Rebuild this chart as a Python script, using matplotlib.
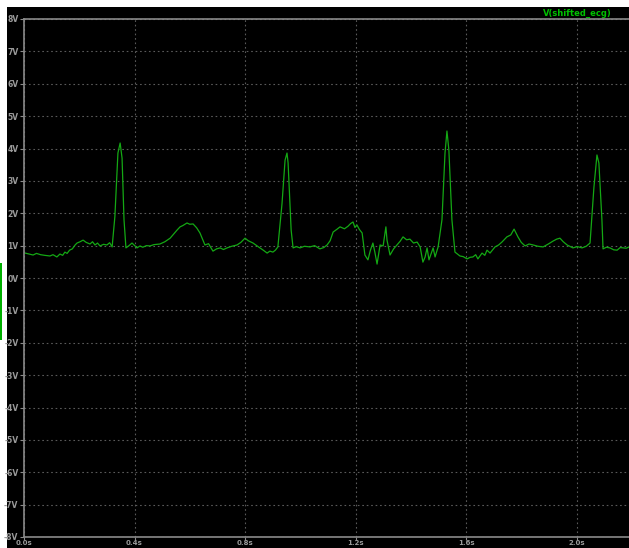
import matplotlib.pyplot as plt
from matplotlib.patches import Rectangle
import numpy as np

# trace values (time in s, voltage in V)
t = [0.004, 0.018, 0.033, 0.045, 0.060, 0.075, 0.094, 0.105, 0.119, 0.130, 0.140, 0.148, 0.156,
     0.165, 0.175, 0.185, 0.192, 0.203, 0.214, 0.225, 0.239, 0.248, 0.257, 0.266, 0.275,
     0.288, 0.300, 0.310, 0.319, 0.329, 0.340, 0.348, 0.355, 0.362, 0.369, 0.380, 0.391,
     0.409, 0.420, 0.430, 0.443, 0.456, 0.470, 0.492, 0.510, 0.529, 0.542, 0.554, 0.565,
     0.575, 0.590, 0.600, 0.612, 0.625, 0.637, 0.655, 0.668, 0.684, 0.697, 0.710, 0.722,
     0.735, 0.752, 0.771, 0.785, 0.800, 0.812, 0.829, 0.842, 0.854, 0.866, 0.880, 0.890,
     0.901, 0.910, 0.919, 0.934, 0.945, 0.952, 0.956, 0.967, 0.974, 0.986, 0.999, 1.015,
     1.035, 1.052, 1.071, 1.085, 1.097, 1.108, 1.119, 1.132, 1.144, 1.160, 1.173, 1.182,
     1.191, 1.198, 1.205, 1.214, 1.224, 1.234, 1.245, 1.254, 1.263, 1.270, 1.278, 1.289,
     1.300, 1.310, 1.314, 1.325, 1.338, 1.350, 1.362, 1.372, 1.385, 1.397, 1.410, 1.423,
     1.434, 1.444, 1.452, 1.459, 1.466, 1.481, 1.488, 1.499, 1.513, 1.524, 1.531, 1.538,
     1.549, 1.560, 1.578, 1.590, 1.604, 1.615, 1.625, 1.635, 1.643, 1.658, 1.668, 1.676,
     1.687, 1.705, 1.718, 1.730, 1.748, 1.762, 1.774, 1.788, 1.800, 1.814, 1.828, 1.843,
     1.860, 1.879, 1.898, 1.915, 1.928, 1.940, 1.952, 1.966, 1.987, 2.003, 2.020, 2.035,
     2.049, 2.063, 2.074, 2.081, 2.092, 2.096, 2.108, 2.121, 2.135, 2.147, 2.158, 2.168,
     2.180, 2.190]
v = [0.77, 0.74, 0.71, 0.76, 0.72, 0.70, 0.68, 0.72, 0.65, 0.74, 0.70, 0.80, 0.76,
     0.86, 0.90, 1.02, 1.08, 1.12, 1.17, 1.10, 1.05, 1.12, 1.02, 1.08, 0.99,
     1.04, 1.02, 1.09, 0.96, 1.90, 3.86, 4.17, 3.70, 1.80, 0.93, 1.00, 1.08,
     0.93, 0.99, 0.95, 1.00, 0.99, 1.03, 1.05, 1.12, 1.23, 1.36, 1.48, 1.58,
     1.62, 1.70, 1.66, 1.67, 1.55, 1.39, 1.02, 1.06, 0.83, 0.90, 0.93, 0.88,
     0.93, 0.98, 1.02, 1.10, 1.23, 1.15, 1.08, 1.00, 0.93, 0.86, 0.77, 0.83,
     0.80, 0.86, 0.96, 2.30, 3.64, 3.86, 3.55, 1.48, 0.93, 0.97, 0.93, 0.98,
     0.96, 1.00, 0.90, 0.94, 1.02, 1.15, 1.42, 1.50, 1.58, 1.52, 1.60, 1.68,
     1.73, 1.56, 1.64, 1.50, 1.39, 0.71, 0.56, 0.86, 1.08, 0.80, 0.43, 1.02,
     0.99, 1.58, 1.17, 0.71, 0.90, 1.02, 1.14, 1.27, 1.18, 1.20, 1.08, 1.11,
     0.96, 0.49, 0.65, 0.93, 0.56, 0.93, 0.65, 0.96, 1.80, 3.86, 4.54, 3.95,
     1.80, 0.80, 0.68, 0.66, 0.59, 0.64, 0.65, 0.72, 0.59, 0.77, 0.70, 0.86,
     0.77, 0.96, 1.02, 1.11, 1.27, 1.33, 1.51, 1.27, 1.10, 0.99, 1.05, 1.02,
     0.98, 0.96, 1.05, 1.14, 1.20, 1.23, 1.12, 1.02, 0.93, 0.97, 0.93, 0.98,
     1.08, 2.80, 3.80, 3.55, 1.80, 0.90, 0.95, 0.93, 0.87, 0.86, 0.94, 0.93,
     0.92, 0.96]

yticks = list(range(-8, 9))
xticks = [0.0, 0.4, 0.8, 1.2, 1.6, 2.0]

W, H = 629, 548
fig = plt.figure(figsize=(W / 100, H / 100), dpi=100, facecolor='white')

# black window background and the small green artefact on the left edge
fig.patches.append(Rectangle((7 / W, 0), 1, 1 - 7 / H, transform=fig.transFigure,
                             facecolor='black', edgecolor='none', zorder=-5))
fig.patches.append(Rectangle((0, (H - 340) / H), 2 / W, 77 / H, transform=fig.transFigure,
                             facecolor='#00b000', edgecolor='none', zorder=-5))

ax = fig.add_axes([24 / W, (H - 537) / H, (W - 24) / W, 518 / H])
ax.set_facecolor('black')
ax.plot(t, v, color='#14a814', lw=0.9)

ax.set_xlim(0, 2.19)
ax.set_ylim(-8, 8)
ax.set_yticks(yticks)
ax.set_yticklabels([f'{y}V' for y in yticks])
ax.set_xticks(xticks)
ax.set_xticklabels([f'{x:.1f}s' for x in xticks])

gc = '#5a5a5a'
ax.grid(True, color=gc, linestyle=(0, (1.5, 2.5)), linewidth=0.8)
for s in ['left', 'top', 'bottom']:
    ax.spines[s].set_color('#8a8a8a')
    ax.spines[s].set_linewidth(1.2)
ax.spines['right'].set_visible(False)
ax.tick_params(colors='#8a8a8a', labelcolor='#9a9a9a', labelsize=5.5, length=3, width=0.8, pad=1)
ax.tick_params(axis='x', length=2, pad=0.3, labelsize=5)
for lab in ax.get_xticklabels() + ax.get_yticklabels():
    lab.set_fontweight('bold')

fig.text(577 / W, 1 - 13 / H, 'V(shifted_ecg)', color='#00c000', fontsize=6, fontweight='bold',
         ha='center', va='center')

fig.savefig('out.png', dpi=100, facecolor='white')
